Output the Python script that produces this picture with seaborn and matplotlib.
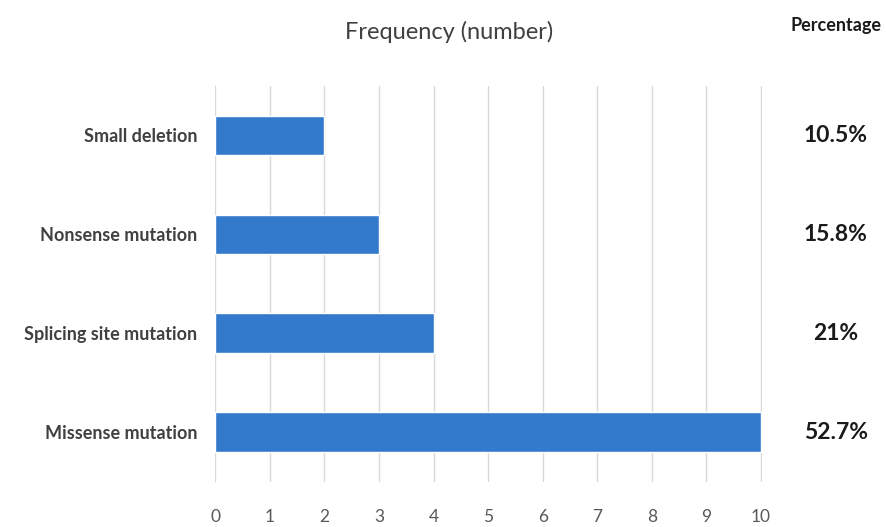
import pandas as pd
import matplotlib.pyplot as plt
import seaborn as sns

# data
mutation_types = ["Small deletion", "Nonsense mutation", "Splicing site mutation", "Missense mutation"]
frequency = [2, 3, 4, 10]
percent_labels = ["10.5%", "15.8%", "21%", "52.7%"]
x_ticks = list(range(0, 11))

df = pd.DataFrame({"type": mutation_types, "freq": frequency})

sns.set_theme(style="white")
plt.rcParams["font.family"] = ["Lato", "DejaVu Sans"]

fig = plt.figure(figsize=(8.86, 5.27), dpi=100)
ax = fig.add_axes([0.243, 0.086, 0.617, 0.751])

sns.barplot(data=df, x="freq", y="type", color="#337ACC", width=0.4,
            saturation=1, ax=ax)

ax.set_xlim(0, 10.02)
ax.set_xticks(x_ticks)
ax.xaxis.grid(True, color="#D9D9D9", linewidth=1)
ax.set_axisbelow(True)
for s in ax.spines.values():
    s.set_visible(False)
ax.set_xlabel("")
ax.set_ylabel("")
ax.tick_params(axis="x", length=0, pad=20, labelsize=12.5, labelcolor="#595959")
ax.tick_params(axis="y", length=0, pad=13, labelsize=13, labelcolor="#404040")
for lbl in ax.get_yticklabels():
    lbl.set_fontweight("bold")

# percentage column on the right
trans = ax.get_yaxis_transform()
for i, p in enumerate(percent_labels):
    ax.text(1.135, i, p, transform=trans, ha="center", va="center",
            fontsize=16.5, fontweight="bold", color="#1a1a1a")

fig.text(449 / 886, 1 - 32 / 527, "Frequency (number)", ha="center", va="center",
         fontsize=17, color="#404040")
fig.text(836 / 886, 1 - 25 / 527, "Percentage", ha="center", va="center",
         fontsize=13, fontweight="bold", color="#1a1a1a")

fig.savefig("out.png", dpi=100)
